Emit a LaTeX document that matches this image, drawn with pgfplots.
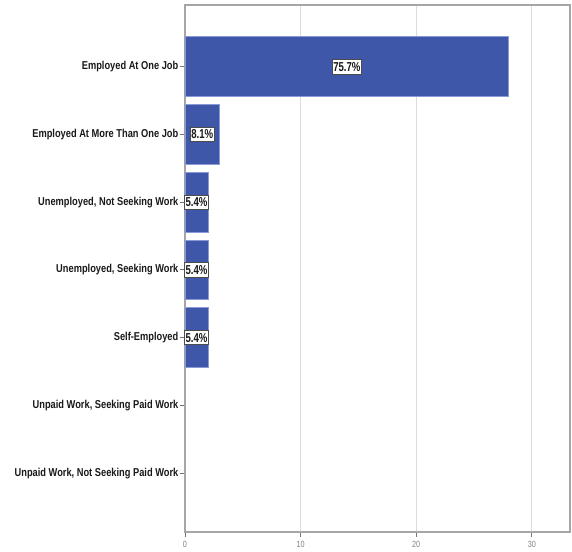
\documentclass[border=0pt]{standalone}
\usepackage{pgfplots}
\pgfplotsset{compat=1.18}
\usepackage{fontspec}
\setmainfont{Liberation Sans}
\newfontfamily\narrow[FakeStretch=0.81]{Liberation Sans}
\newfontfamily\labelfont[FakeStretch=0.74]{Liberation Sans}
\definecolor{barfill}{HTML}{3F57A8}
\definecolor{baredge}{HTML}{8A9AD6}
\definecolor{axgray}{HTML}{A6A6A6}
\definecolor{gridgray}{HTML}{DCDCDC}
\begin{document}
\begin{tikzpicture}[x=1bp,y=1bp]
\begin{axis}[
  scale only axis,
  width=385bp, height=527bp,
  xmin=0, xmax=33.3,
  ymin=-0.91, ymax=6.87,
  y dir=reverse,
  xtick={0,10,20,30},
  ytick={0,1,2,3,4,5,6},
  yticklabels={Employed At One Job, Employed At More Than One Job, {Unemployed, Not Seeking Work}, {Unemployed, Seeking Work}, Self-Employed, {Unpaid Work, Seeking Paid Work}, {Unpaid Work, Not Seeking Paid Work}},
  tick pos=left,
  tick align=outside,
  major tick length=5bp,
  xmajorgrids,
  major grid style={gridgray, line width=0.8bp},
  axis line style={axgray, line width=1.1bp},
  tick style={black!55, line width=0.9bp},
  /pgf/number format/assume math mode=true,
  xticklabel style={font=\narrow\fontsize{9}{10}\selectfont, text=gray, yshift=-1bp},
  yticklabel style={font=\narrow\bfseries\fontsize{11.5}{12}\selectfont, text=black!90, inner sep=1.5bp},
  clip=false,
]
\addplot[xbar, bar width=0.88, fill=barfill, draw=baredge, line width=0.8bp] coordinates {
  (28,0) (3,1) (2,2) (2,3) (2,4)
};
\addplot[draw=none, mark=none, nodes near coords, point meta=explicit symbolic,
  every node near coord/.style={anchor=center, fill=white, draw=black!70, line width=0.6bp,
    inner xsep=1bp, inner ysep=2.6bp, font=\labelfont\bfseries\fontsize{13}{13}\selectfont, text=black!90}]
coordinates {
  (14,0) [75.7\%]
  (1.5,1) [8.1\%]
  (1,2) [5.4\%]
  (1,3) [5.4\%]
  (1,4) [5.4\%]
};
\end{axis}
\path (current axis.south west) ++(-185bp,-18bp) rectangle ++(572bp,550bp);
\end{tikzpicture}
\end{document}
